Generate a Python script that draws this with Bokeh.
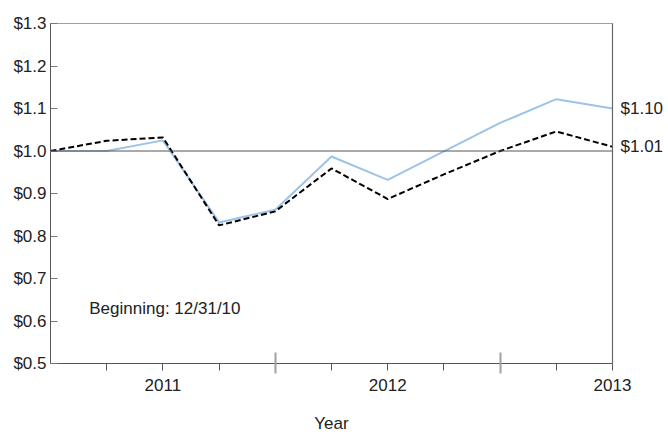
from bokeh.plotting import figure
from bokeh.models import FixedTicker, Span, Label, Range1d, NumeralTickFormatter, LinearAxis
from bokeh.embed import file_html
from bokeh.resources import INLINE

# quarter index 0 = 12/31/10 ... 10 = end of 2013 period
quarters = [0, 1, 2, 3, 4, 5, 6, 7, 8, 9, 10]
fund = [1.00, 1.00, 1.025, 0.832, 0.862, 0.987, 0.932, 0.999, 1.066, 1.122, 1.10]
index = [1.00, 1.024, 1.032, 0.825, 0.858, 0.959, 0.887, 0.945, 1.000, 1.046, 1.01]
year_ticks = [2, 6, 10]
year_labels = ["2011", "2012", "2013"]
short_ticks = [1, 2, 3, 5, 6, 7, 9, 10]
long_ticks = [4, 8]
y_ticks = [0.5, 0.6, 0.7, 0.8, 0.9, 1.0, 1.1, 1.2, 1.3]

FONT = "Liberation Sans"
FS = "17px"
TXT = "#222222"

p = figure(frame_width=562, frame_height=340, output_backend="svg", toolbar_location=None,
           x_range=Range1d(0, 10), y_range=Range1d(0.5, 1.3),
           min_border_left=50, min_border_top=23, min_border_right=56, min_border_bottom=69)
p.background_fill_color = "white"
p.border_fill_color = "white"
p.outline_line_color = "#a0a0a0"
p.xgrid.visible = False
p.ygrid.visible = False

# lines
p.line(quarters, fund, line_color="#9dc3e6", line_width=2)
p.line(quarters, index, line_color="black", line_width=2, line_dash="6 3")

# reference line at $1.0
p.add_layout(Span(location=1.0, dimension="width", line_color="#555555", line_width=1))

# y axis
yax = p.yaxis[0]
yax.ticker = FixedTicker(ticks=y_ticks)
yax.formatter = NumeralTickFormatter(format="$0.0")
yax.major_tick_in = 7
yax.major_tick_out = 0
yax.minor_tick_in = 0
yax.minor_tick_out = 0
yax.axis_line_color = "#555555"
yax.major_tick_line_color = "#777777"
yax.major_label_standoff = 4
yax.major_label_text_font = FONT
yax.major_label_text_font_size = FS
yax.major_label_text_color = TXT

# right axis: end-value labels and right border
end_vals = [fund[-1], index[-1]]
rax = LinearAxis(ticker=FixedTicker(ticks=end_vals),
                 formatter=NumeralTickFormatter(format="$0.00"))
rax.major_tick_in = 0
rax.major_tick_out = 0
rax.minor_tick_in = 0
rax.minor_tick_out = 0
rax.major_tick_line_color = None
rax.axis_line_color = "#666666"
rax.axis_line_width = 1.2
rax.major_label_standoff = 8
rax.major_label_text_font = FONT
rax.major_label_text_font_size = FS
rax.major_label_text_color = TXT
p.add_layout(rax, "right")

# x axis
xax = p.xaxis[0]
xax.ticker = FixedTicker(ticks=short_ticks, minor_ticks=long_ticks)
overrides = {t: "" for t in short_ticks}
for t, lab in zip(year_ticks, year_labels):
    overrides[t] = lab
xax.major_label_overrides = overrides
xax.major_tick_in = 0
xax.major_tick_out = 7
xax.minor_tick_in = 11
xax.minor_tick_out = 10
xax.minor_tick_line_color = "#a0a0a0"
xax.minor_tick_line_width = 2
xax.major_tick_line_color = "#555555"
xax.axis_line_color = "#555555"
xax.major_label_standoff = 5
xax.major_label_text_font = FONT
xax.major_label_text_font_size = FS
xax.major_label_text_color = TXT
xax.axis_label = "Year"
xax.axis_label_text_font = FONT
xax.axis_label_text_font_style = "normal"
xax.axis_label_text_font_size = FS
xax.axis_label_text_color = TXT
xax.axis_label_standoff = 20

p.add_layout(Label(x=0.69, y=0.63, text="Beginning: 12/31/10", text_baseline="middle",
                   text_font=FONT, text_font_size=FS, text_color=TXT))

open("out.html", "w").write(file_html(p, INLINE))
